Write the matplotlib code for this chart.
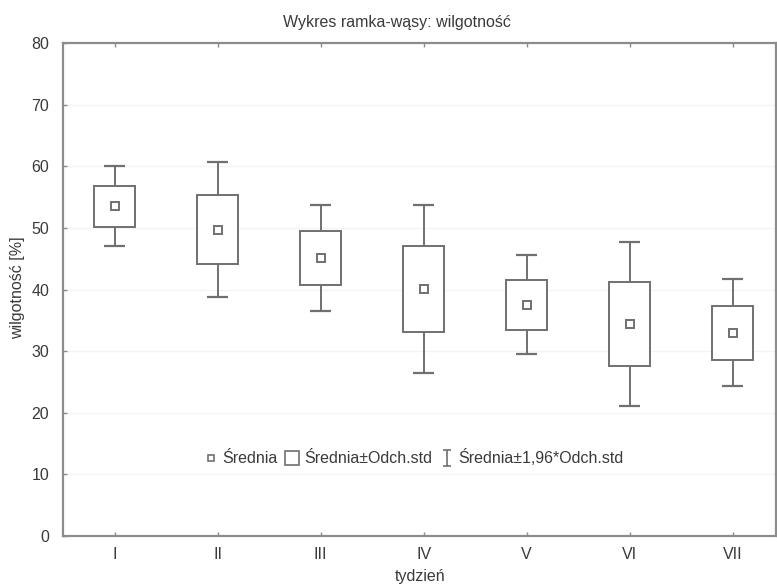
import matplotlib
matplotlib.use("Agg")
import matplotlib.pyplot as plt
from matplotlib.lines import Line2D
from matplotlib.path import Path
import numpy as np

plt.rcParams['font.family'] = ['Liberation Sans', 'DejaVu Sans']

categories = ["I", "II", "III", "IV", "V", "VI", "VII"]
means = [53.5, 49.7, 45.1, 40.1, 37.5, 34.4, 33.0]
stds = [3.3, 5.6, 4.4, 6.95, 4.1, 6.8, 4.4]
yticks = [0, 10, 20, 30, 40, 50, 60, 70, 80]

title = "Wykres ramka-wąsy: wilgotność"
xlabel = "tydzień"
ylabel = "wilgotność [%]"
leg_labels = ["Średnia", "Średnia±Odch.std", "Średnia±1,96*Odch.std"]

line_c = "#707070"
spine_c = "#8c8c8c"
text_c = "#3a3a3a"
fs = 11.5

fig = plt.figure(figsize=(7.77, 5.87), dpi=100)
ax = fig.add_axes([63/777, 1-536/587, (776-63)/777, (536-43)/587])

x = np.arange(1, len(categories) + 1)
m = np.array(means)
s = np.array(stds)
lo_box, hi_box = m - s, m + s
lo_w, hi_w = m - 1.96 * s, m + 1.96 * s

for yv in yticks[1:-1]:
    ax.axhline(yv, color="#f4f4f4", lw=1, zorder=0)

bw = 0.4
cw = 0.2
ax.bar(x, 2 * s, bottom=lo_box, width=bw, facecolor="white", edgecolor=line_c, lw=1.4, zorder=3)
ax.vlines(x, hi_box, hi_w, color=line_c, lw=1.4, zorder=2)
ax.vlines(x, lo_w, lo_box, color=line_c, lw=1.4, zorder=2)
ax.hlines(hi_w, x - cw / 2, x + cw / 2, color=line_c, lw=1.6, zorder=2)
ax.hlines(lo_w, x - cw / 2, x + cw / 2, color=line_c, lw=1.6, zorder=2)
ax.plot(x, m, ls="none", marker="s", ms=5.5, mfc="white", mec=line_c, mew=1.4, zorder=4)

ax.set_xlim(0.5, 7.42)
ax.set_ylim(0, 80)
ax.set_xticks(x)
ax.set_xticklabels(categories)
ax.set_yticks(yticks)
ax.tick_params(axis="both", direction="in", length=3, width=1, color=spine_c,
               labelsize=fs, labelcolor=text_c, top=True, right=False, pad=8)
ax.tick_params(axis="y", pad=10)

for sp in ax.spines.values():
    sp.set_color(spine_c)
    sp.set_linewidth(1.6)

fig.text(397/777, 1-23/587, title, fontsize=fs, color=text_c, ha="center", va="center")
ax.set_xlabel(xlabel, fontsize=fs, color=text_c)
ax.xaxis.set_label_coords((420-63)/713, (536-576)/493)
ax.xaxis.label.set_va("center")
ax.set_ylabel(ylabel, fontsize=fs, color=text_c)
ax.yaxis.set_label_coords((18-63)/713, 0.503)
ax.yaxis.label.set_va("center")

ibeam = Path([(-0.5, 1), (0.5, 1), (0, 1), (0, -1), (-0.5, -1), (0.5, -1)],
             [Path.MOVETO, Path.LINETO, Path.MOVETO, Path.LINETO, Path.MOVETO, Path.LINETO])
handles = [
    Line2D([], [], ls="none", marker="s", ms=5, mfc="white", mec=line_c, mew=1.2),
    Line2D([], [], ls="none", marker="s", ms=10.5, mfc="white", mec=line_c, mew=1.2),
    Line2D([], [], ls="none", marker=ibeam, ms=12, mec=line_c, mew=1.2),
]
leg = ax.legend(handles, leg_labels, ncol=3, loc="center", bbox_to_anchor=((414-63)/713, 12.7 / 80),
                frameon=False, fontsize=fs, handlelength=0.8, handletextpad=0.35,
                columnspacing=0.5, labelcolor=text_c)

fig.savefig("out.png", dpi=100)
